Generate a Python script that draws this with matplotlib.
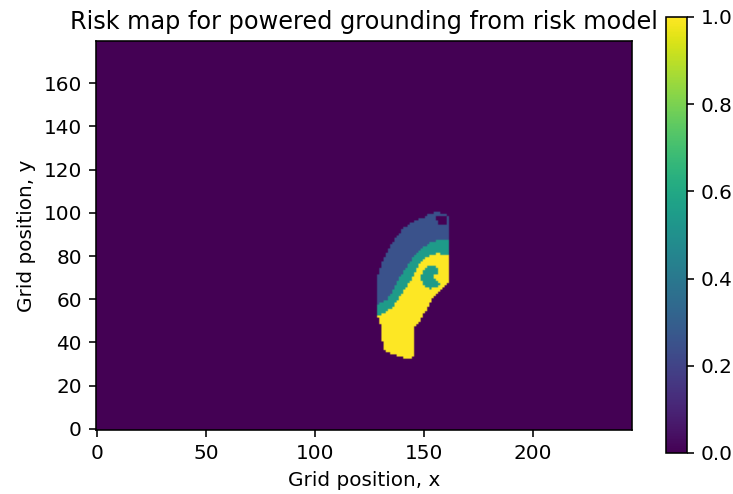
import numpy as np
import matplotlib
matplotlib.use("Agg")
import matplotlib.pyplot as plt
from matplotlib.path import Path

# ---- data ----
grid_nx = 246
grid_ny = 180

# outer boundary of the risk region (level 0.25)
outer_x = [149.7, 152.5, 156.0, 159.5, 161.5, 161.5, 161.2, 157.3, 153.5, 151.2, 148.2, 145.9, 145.1, 145.1, 144.4,
           137.5, 132.9, 131.3, 130.6, 129.8, 128.3, 128.3, 129.0, 131.3, 134.4, 137.5, 140.5, 145.1]
outer_y = [97.8, 99.6, 100.2, 99.8, 98.5, 67.3, 67.3, 64.2, 59.5, 54.9, 50.2, 47.1, 44.0, 33.2, 32.0,
           34.0, 35.5, 37.8, 44.0, 49.4, 52.6, 70.4, 72.0, 78.1, 84.3, 89.0, 92.9, 96.0]
outer_level = 0.25

# small gap near the top edge (level 0)
notch_x = [155.5, 157.0, 159.5, 160.8, 160.0, 158.5, 156.2]
notch_y = [97.5, 95.0, 94.0, 95.5, 98.0, 98.8, 98.8]

# medium risk region (level 0.55)
mid_x = [128.3, 132.9, 135.9, 139.0, 142.1, 145.1, 149.7, 154.3, 158.9, 165.0, 165.0, 120.0, 120.0]
mid_y = [57.2, 59.5, 64.2, 70.4, 75.0, 79.7, 84.3, 86.7, 87.8, 87.8, 20.0, 20.0, 57.2]
mid_level = 0.55

# high risk region (level 1.0)
high_x = [128.3, 131.3, 135.9, 139.0, 142.1, 145.1, 148.2, 151.2, 155.8, 160.4, 165.0, 165.0, 120.0, 120.0]
high_y = [52.6, 53.3, 56.4, 61.1, 65.7, 70.4, 76.6, 79.7, 81.2, 80.5, 78.1, 20.0, 20.0, 52.6]
high_level = 1.0

# medium-risk "eye" inside the high risk region
eye_x = [149.5, 151.5, 154.5, 156.5, 157.0, 155.0, 154.0, 156.0, 157.5, 156.0, 153.0, 150.5, 149.0, 148.8]
eye_y = [73.5, 75.5, 75.5, 74.0, 72.0, 71.5, 70.5, 69.0, 67.5, 65.5, 64.8, 65.5, 68.0, 71.0]
eye_level = 0.55

x_ticks = [0, 50, 100, 150, 200]
y_ticks = [0, 20, 40, 60, 80, 100, 120, 140, 160]
cbar_ticks = [0.0, 0.2, 0.4, 0.6, 0.8, 1.0]

# ---- build grid ----
gx, gy = np.meshgrid(np.arange(grid_nx), np.arange(grid_ny))
pts = np.column_stack([gx.ravel(), gy.ravel()])

def mask(xs, ys):
    return Path(np.column_stack([xs, ys])).contains_points(pts).reshape(grid_ny, grid_nx)

risk = np.zeros((grid_ny, grid_nx))
m_outer = mask(outer_x, outer_y) & ~mask(notch_x, notch_y)
risk[m_outer] = outer_level
risk[m_outer & mask(mid_x, mid_y)] = mid_level
risk[m_outer & mask(high_x, high_y)] = high_level
risk[m_outer & mask(eye_x, eye_y)] = eye_level

# ---- plot ----
dpi = 144
fig = plt.figure(figsize=(733 / dpi, 494 / dpi), dpi=dpi)
ax = fig.add_axes([96 / 733, 64 / 494, 536 / 733, 389 / 494])
im = ax.imshow(risk, origin="lower", cmap="viridis", vmin=0, vmax=1, aspect="auto",
               interpolation="hanning", interpolation_stage="rgba")
ax.set_xticks(x_ticks)
ax.set_yticks(y_ticks)
ax.set_title("Risk map for powered grounding from risk model")
ax.set_xlabel("Grid position, x")
ax.set_ylabel("Grid position, y")

cax = fig.add_axes([666 / 733, 41 / 494, 21 / 733, 436 / 494])
cb = fig.colorbar(im, cax=cax)
cb.set_ticks(cbar_ticks)

fig.savefig("out.png", dpi=dpi)
